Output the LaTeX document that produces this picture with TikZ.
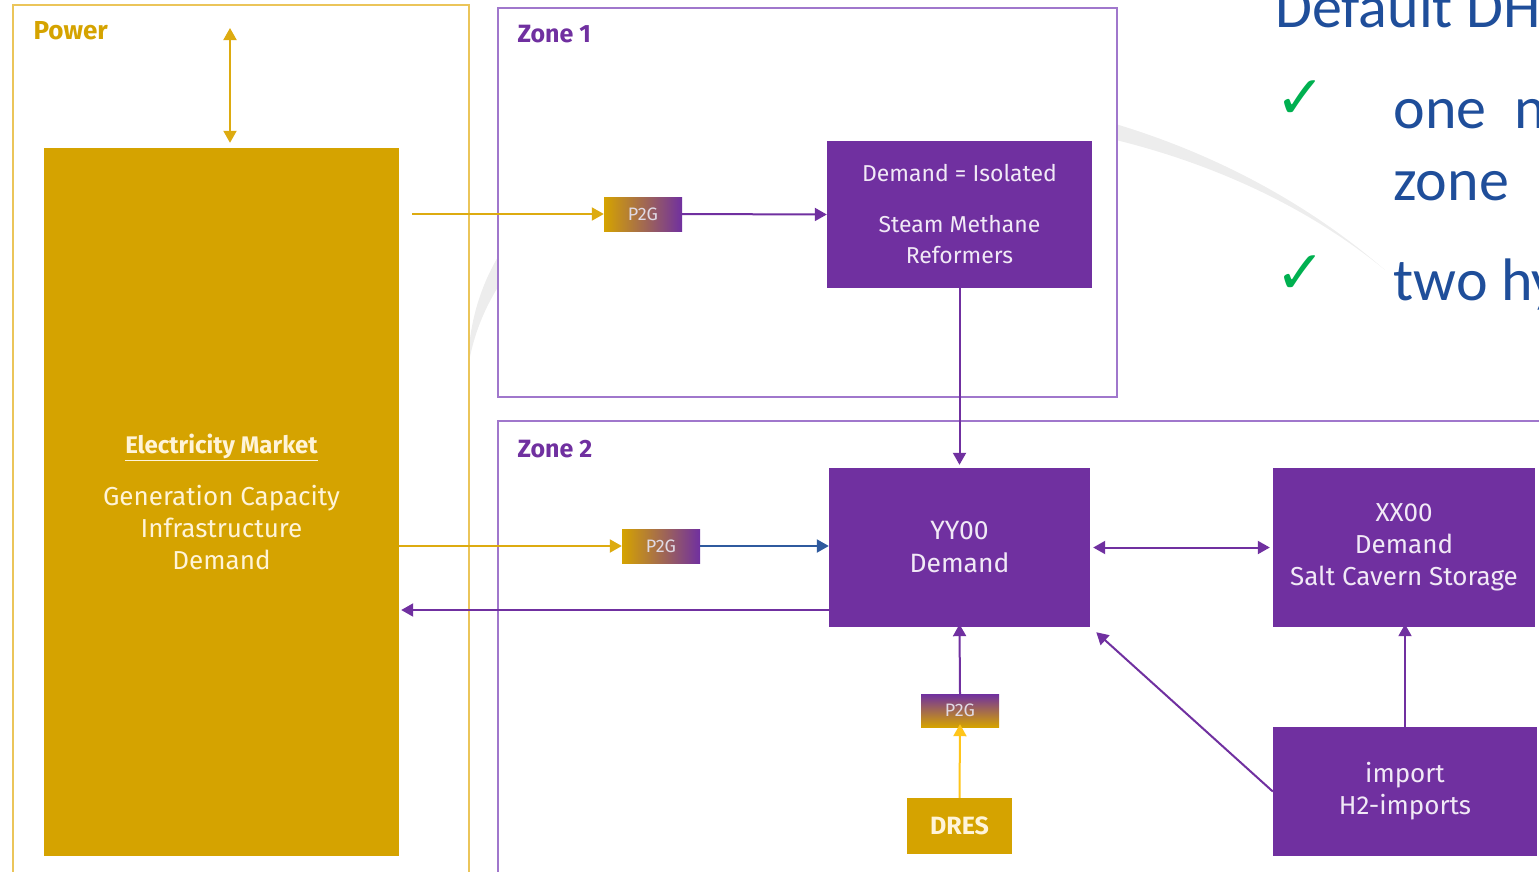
\documentclass[tikz,border=0pt]{standalone}
\usepackage{fontspec}
\setmainfont{Fira Sans}
\newfontfamily\slidefont{Carlito}
\newfontfamily\symbfont{DejaVu Sans}
\usetikzlibrary{arrows.meta,positioning}
\definecolor{purpleMain}{HTML}{7030A0}
\definecolor{purpleFrame}{HTML}{A077CC}
\definecolor{goldMain}{HTML}{D5A300}
\definecolor{goldFrame}{HTML}{EBC55A}
\definecolor{goldArrow}{HTML}{DDAB10}
\definecolor{yellowArrow}{HTML}{FFC51A}
\definecolor{blueArrow}{HTML}{2F5A9E}
\definecolor{slideBlue}{HTML}{1F4E9A}
\definecolor{tickGreen}{HTML}{00B050}
\definecolor{swooshGrey}{HTML}{EDEDED}
\definecolor{lilaText}{HTML}{F1E9F6}
\definecolor{goldText}{HTML}{FFF4D8}

\begin{document}
\begin{tikzpicture}[x=1pt, y=-1pt,
    lilabox/.style={rectangle, fill=purpleMain, text=lilaText, align=center, inner sep=0pt},
    goldbox/.style={rectangle, fill=goldMain, text=goldText, align=center, inner sep=0pt},
    p2gbox/.style={rectangle, minimum width=78pt, minimum height=34pt, inner sep=0pt,
                   text=lilaText!85!gray, font=\fontsize{18}{20}\selectfont},
    frame/.style={line width=2.5pt},
    zonelabel/.style={anchor=base west, text=purpleMain, font=\bfseries\fontsize{25}{28}\selectfont},
    flow/.style={-{Triangle[length=12pt, width=13pt]}, line width=2pt},
    slidetext/.style={anchor=base west, text=slideBlue, font=\slidefont\fontsize{60}{66}\selectfont},
    tick/.style={anchor=base west, text=tickGreen, font=\symbfont\fontsize{60}{64}\selectfont}
  ]
  \useasboundingbox (0,0) rectangle (1539,871);
  \clip (0,0) rectangle (1539,871);

  % background swoosh of the slide
  \fill[swooshGrey] (468,368) .. controls (470,60) and (1050,-20) .. (1385,270)
    .. controls (1080,20) and (510,90) .. (468,368);

  % frames
  \draw[frame, goldFrame] (13,5) rectangle (469,890);
  \draw[frame, purpleFrame, fill=white] (498,8) rectangle (1117,397);
  \draw[frame, purpleFrame, fill=white] (498,421) rectangle (1560,890);
  \node[anchor=base west, text=goldMain, font=\bfseries\fontsize{26}{28}\selectfont] (lblpower) at (30,39) {Power};
  \node[zonelabel] (lblzoneA) at (514,42) {Zone 1};
  \node[zonelabel] (lblzoneB) at (514,457) {Zone 2};

  % boxes
  \node[goldbox, minimum width=355pt, minimum height=708pt, font=\fontsize{26}{32}\selectfont] (markt) at (221.5,502) {%
    {\bfseries\fontsize{24}{32}\selectfont\underline{Electricity Market}}\\[20pt]
    Generation Capacity\\ Infrastructure\\ Demand};
  \node[lilabox, minimum width=265pt, minimum height=147pt, font=\fontsize{23}{31}\selectfont] (smr) at (959.5,214.5)
    {Demand = Isolated\\[20pt] Steam Methane\\ Reformers};
  \node[lilabox, minimum width=261pt, minimum height=159pt, font=\fontsize{26.5}{33}\selectfont] (yy) at (959.5,547.5)
    {YY00\\ Demand};
  \node[lilabox, minimum width=262pt, minimum height=159pt, font=\fontsize{26}{32}\selectfont] (xx) at (1404,547.5)
    {XX00\\ Demand\\ Salt Cavern Storage};
  \node[lilabox, minimum width=264pt, minimum height=129pt, font=\fontsize{26}{32}\selectfont] (imp) at (1405,791.5)
    {import\\ H2-imports};
  \node[goldbox, minimum width=105pt, minimum height=56pt, font=\bfseries\fontsize{25}{28}\selectfont] (dres) at (959.5,826) {DRES};

  % power-to-gas units
  \node[p2gbox, left color=goldMain, right color=purpleMain] (p2gA) at (643,214) {P2G};
  \node[p2gbox, left color=goldMain, right color=purpleMain] (p2gB) at (661,546) {P2G};
  \node[p2gbox, top color=purpleMain, bottom color=goldMain, minimum height=33pt] (p2gC) at (960,710.5) {P2G};

  % connectors
  \coordinate (pwrtop) at (230,28);
  \coordinate (lowrow) at (0,610);
  \draw[flow, {Triangle[length=12pt, width=13pt]}-{Triangle[length=12pt, width=13pt]}, goldArrow]
    (pwrtop) -- ([yshift=5pt]markt.north -| pwrtop);
  \draw[flow, goldArrow] ([xshift=13pt]markt.east |- p2gA.west) -- (p2gA.west);
  \draw[flow, purpleMain] (p2gA.east) -- (smr.west);
  \draw[flow, purpleMain] (smr.south) -- ([yshift=3pt]yy.north);
  \draw[flow, goldArrow] (markt.east |- p2gB.west) -- (p2gB.west);
  \draw[flow, blueArrow] (p2gB.east) -- (yy.west |- p2gB.east);
  \draw[flow, purpleMain] (yy.west |- lowrow) -- ([xshift=2pt]markt.east |- lowrow);
  \draw[flow, {Triangle[length=12pt, width=13pt]}-{Triangle[length=12pt, width=13pt]}, purpleMain]
    ([xshift=3pt]yy.east) -- ([xshift=-3pt]xx.west);
  \draw[flow, purpleMain] (p2gC.north) -- ([yshift=3pt]yy.south);
  \draw[flow, yellowArrow] (dres.north) -- ([yshift=3pt]p2gC.south);
  \draw[flow, purpleMain] (imp.west) -- ([shift={(6pt,-5pt)}]yy.south east);
  \draw[flow, purpleMain] (imp.north) -- ([yshift=3pt]xx.south -| imp.north);

  % slide text on the right
  \node[slidetext] (title) at (1272,27) {Default DH};
  \node[tick] (tickA) at (1272,118) {✓};
  \node[tick] (tickB) at (1272,293) {✓};
  \node[slidetext] (itemA) at (1390,128) {one\hspace{28pt}n};
  \node[slidetext] (itemAb) at (1390,200) {zone};
  \node[slidetext] (itemB) at (1390,300) {two hy};
\end{tikzpicture}
\end{document}
